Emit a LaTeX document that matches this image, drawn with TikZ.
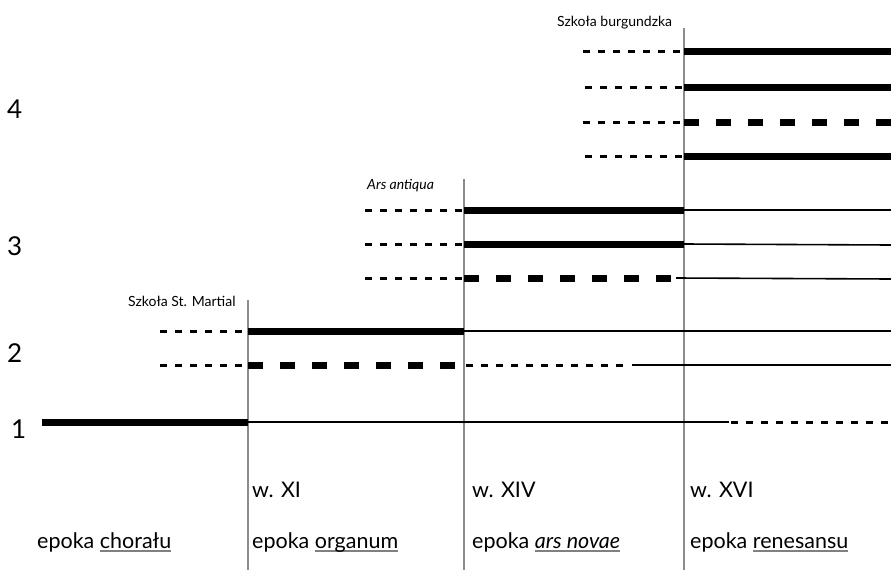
\documentclass[tikz,border=0pt]{standalone}
\usepackage{fontspec}
\setmainfont{Lato}
\usepackage{xcolor}
\newlength{\ulwd}
\newcommand{\ulgray}[1]{\settowidth{\ulwd}{#1}\rlap{\color{black!50}\rule[-4pt]{\ulwd}{1.6pt}}#1}
\begin{document}
\begin{tikzpicture}[x=1pt,y=-1pt,
  era/.style={draw=black!45,line width=1.2pt},
  solidthick/.style={line width=7pt},
  solidthin/.style={line width=1.6pt},
  dashsmall/.style={line width=3pt,dash pattern=on 7pt off 8pt},
  dashbig/.style={line width=7pt,dash pattern=on 15pt off 17pt},
  voice/.style={font=\fontsize{26}{26}\selectfont,anchor=base west,inner sep=0pt},
  school/.style={font=\fontsize{14}{14}\selectfont,anchor=base west,inner sep=0pt},
  epoch/.style={font=\fontsize{21.5}{22}\selectfont,anchor=base west,inner sep=0pt}]
\useasboundingbox (0,0) rectangle (891,570);

% era boundaries
\coordinate (eA) at (248,300);  \coordinate (eAb) at (248,570);
\coordinate (eB) at (464,179);  \coordinate (eBb) at (464,570);
\coordinate (eC) at (684,28);   \coordinate (eCb) at (684,570);
\draw[era] (eA) -- (eAb);
\draw[era] (eB) -- (eBb);
\draw[era] (eC) -- (eCb);

% number of voices
\node[voice] (v4) at (7,118) {4};
\node[voice] (v3) at (7,255) {3};
\node[voice] (v2) at (7,362) {2};
\node[voice] (v1) at (11,438) {1};

% one voice: chant
\draw[solidthick] (42,422) -- (248,422);
\draw[solidthin] (248,422) -- (729,422);
\draw[dashsmall] (731,422) -- (891,422);

% two voices: St. Martial
\draw[dashsmall] (160,331) -- (248,331);
\draw[solidthick] (248,331) -- (464,331);
\draw[solidthin] (464,331) -- (891,331);
\draw[dashsmall] (160,365) -- (248,365);
\draw[dashbig] (248,365) -- (462,365);
\draw[dashsmall] (466,365) -- (625,365);
\draw[solidthin] (632,365) -- (891,365);

% three voices: ars antiqua
\draw[dashsmall] (365,210) -- (464,210);
\draw[solidthick] (464,210) -- (684,210);
\draw[solidthin] (684,210) -- (891,210);
\draw[dashsmall] (365,244) -- (464,244);
\draw[solidthick] (464,244) -- (684,244);
\draw[solidthin] (684,244) -- (891,245);
\draw[dashsmall] (365,278) -- (464,278);
\draw[dashbig] (464,278) -- (676,278);
\draw[solidthin] (676,278) -- (891,279);

% four voices: Burgundian school
\draw[dashsmall] (583,51) -- (684,51);
\draw[solidthick] (684,51) -- (891,51);
\draw[dashsmall] (585,87) -- (684,87);
\draw[solidthick] (684,87) -- (891,87);
\draw[dashsmall] (583,122) -- (684,122);
\draw[dashbig] (684,122) -- (891,122);
\draw[dashsmall] (585,156) -- (684,156);
\draw[solidthick] (684,156) -- (891,156);

% school labels
\node[school] (sm) at (128,306) {Szkoła St. Martial};
\node[school] (aa) at (367,189) {\itshape Ars antiqua};
\node[school] (sb) at (557,27) {Szkoła burgundzka};

% centuries
\node[epoch] (c11) at (252,497) {w. XI};
\node[epoch] (c14) at (472,497) {w. XIV};
\node[epoch] (c16) at (690,497) {w. XVI};

% epochs
\node[epoch] (p1) at (37,548) {epoka \ulgray{chorału}};
\node[epoch] (p2) at (252,548) {epoka \ulgray{organum}};
\node[epoch] (p3) at (472,548) {epoka \ulgray{\itshape ars novae}};
\node[epoch] (p4) at (690,548) {epoka \ulgray{renesansu}};
\end{tikzpicture}
\end{document}
